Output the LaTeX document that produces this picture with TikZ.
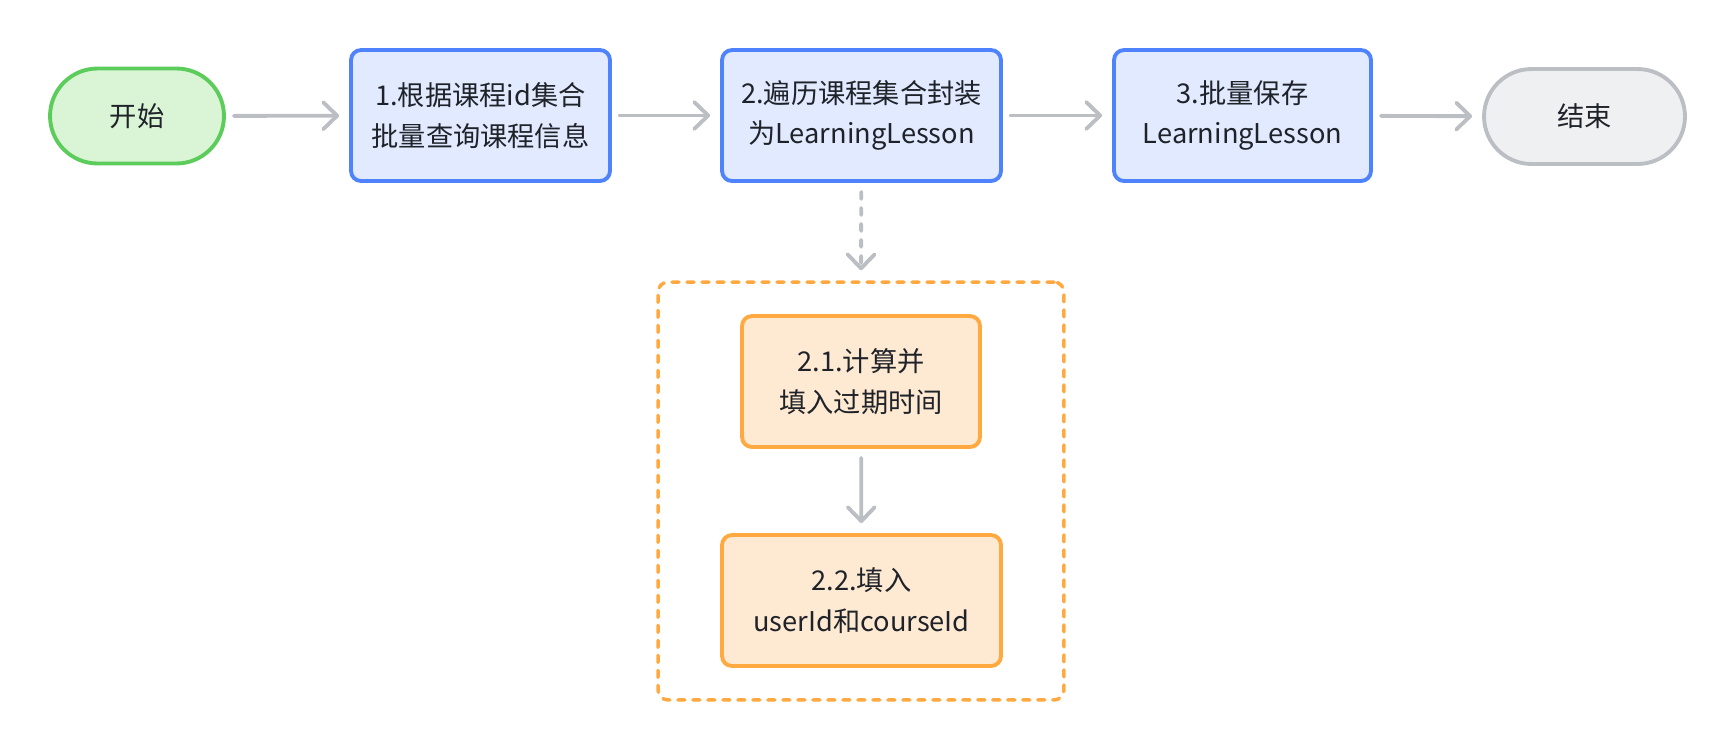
\documentclass[tikz,border=0pt]{standalone}
\usepackage{fontspec}
\setmainfont{Noto Sans CJK SC}
\usetikzlibrary{arrows.meta,shapes.misc}
\definecolor{txtgray}{HTML}{1F2329}
\definecolor{linkgray}{HTML}{BBBFC4}
\definecolor{greenline}{HTML}{5CCC5A}
\definecolor{greenfill}{HTML}{D9F5D6}
\definecolor{blueline}{HTML}{4E83FD}
\definecolor{bluefill}{HTML}{E1EAFF}
\definecolor{orangeline}{HTML}{FFA940}
\definecolor{orangefill}{HTML}{FEEAD2}
\definecolor{endfill}{HTML}{EFF0F1}
\begin{document}
\begin{tikzpicture}[x=0.02cm,y=-0.02cm,
  every node/.style={font=\fontsize{15.5}{23}\selectfont, text=txtgray, align=center},
  term/.style={rounded rectangle, line width=2.2pt, minimum height=1.9cm, inner sep=0pt},
  stepbox/.style={rectangle, rounded corners=0.2cm, line width=2.2pt, minimum height=2.62cm, inner sep=0pt},
  link/.style={draw=linkgray, line width=2.2pt, line cap=round,
    -{Straight Barb[length=0.28cm,width=0.54cm,round]}}]
  \useasboundingbox (0,0) rectangle (1734,748);
  % main row
  \node [term, draw=greenline, fill=greenfill, minimum width=3.48cm] (start) at (137,116) {开始};
  \node [stepbox, draw=blueline, fill=bluefill, minimum width=5.18cm] (collect) at (480.5,115.5) {1.根据课程id集合\\批量查询课程信息};
  \node [stepbox, draw=blueline, fill=bluefill, minimum width=5.58cm] (wrap) at (861.5,115.5) {2.遍历课程集合封装\\为LearningLesson};
  \node [stepbox, draw=blueline, fill=bluefill, minimum width=5.14cm] (save) at (1242.5,115.5) {3.批量保存\\LearningLesson};
  \node [term, draw=linkgray, fill=endfill, minimum width=4.02cm] (finish) at (1584.5,116.5) {结束};
  % sub steps of 2
  \node [draw=orangeline, line width=2pt, line cap=round, dash pattern=on 0.14cm off 0.16cm, rounded corners=0.2cm,
    minimum width=8.12cm, minimum height=8.36cm] (group) at (861,491) {};
  \node [stepbox, draw=orangeline, fill=orangefill, minimum width=4.76cm] (expire) at (861,381.5) {2.1.计算并\\填入过期时间};
  \node [stepbox, draw=orangeline, fill=orangefill, minimum width=5.58cm] (ids) at (861.5,600.5) {2.2.填入\\userId和courseId};
  % connectors
  \draw [link, shorten <=0.16cm, shorten >=0.2cm] (start) -- (collect);
  \draw [link, shorten <=0.16cm, shorten >=0.2cm] (collect) -- (wrap);
  \draw [link, shorten <=0.16cm, shorten >=0.2cm] (wrap) -- (save);
  \draw [link, shorten <=0.16cm, shorten >=0.2cm] (save) -- (finish);
  \draw [link, dash pattern=on 0.14cm off 0.18cm, shorten <=0.18cm, shorten >=0.2cm] (wrap) -- (group.north);
  \draw [link, shorten <=0.18cm, shorten >=0.2cm] (expire) -- (ids);
\end{tikzpicture}
\end{document}
